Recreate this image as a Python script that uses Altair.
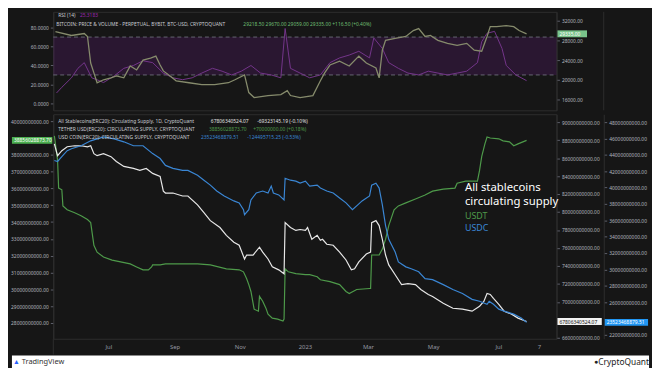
import altair as alt
import pandas as pd

# ---------------- data ----------------
# USDT (ERC20) circulating supply, billions USD  (left axis)
usdt_points = [
    ("2022-05-11", 39.12), ("2022-05-14", 37.68), ("2022-05-15", 36.02), ("2022-05-18", 35.92),
    ("2022-05-19", 34.96), ("2022-05-23", 34.73), ("2022-05-30", 34.55), ("2022-06-05", 34.38),
    ("2022-06-11", 34.15), ("2022-06-14", 33.97), ("2022-06-17", 32.62), ("2022-06-20", 32.21),
    ("2022-06-26", 31.92), ("2022-07-04", 31.74), ("2022-07-12", 31.63), ("2022-07-21", 31.51),
    ("2022-07-27", 31.33), ("2022-08-02", 31.16), ("2022-08-07", 31.16), ("2022-08-10", 31.33),
    ("2022-08-11", 31.45), ("2022-08-18", 31.45), ("2022-08-23", 31.51), ("2022-09-08", 31.51),
    ("2022-09-22", 31.51), ("2022-10-04", 31.45), ("2022-10-19", 31.22), ("2022-10-31", 31.16),
    ("2022-11-04", 31.04), ("2022-11-07", 30.63), ("2022-11-09", 30.28), ("2022-11-11", 29.87),
    ("2022-11-14", 28.82), ("2022-11-18", 28.70), ("2022-11-19", 29.58), ("2022-11-22", 29.29),
    ("2022-11-25", 28.88), ("2022-11-27", 28.52), ("2022-12-01", 28.29), ("2022-12-06", 28.23),
    ("2022-12-11", 28.11), ("2022-12-12", 28.23), ("2022-12-13", 31.22), ("2022-12-16", 31.04),
    ("2022-12-23", 30.93), ("2023-01-01", 30.87), ("2023-01-05", 30.87), ("2023-01-12", 30.75),
    ("2023-01-15", 30.57), ("2023-01-24", 30.46), ("2023-02-02", 30.28), ("2023-02-08", 29.87),
    ("2023-02-11", 29.75), ("2023-02-18", 29.99), ("2023-03-02", 30.05), ("2023-03-03", 30.05),
    ("2023-03-04", 32.04), ("2023-03-11", 32.04), ("2023-03-14", 32.39), ("2023-03-17", 32.97),
    ("2023-03-20", 33.79), ("2023-03-25", 34.73), ("2023-03-29", 34.96), ("2023-04-05", 35.14),
    ("2023-04-14", 35.37), ("2023-04-23", 35.61), ("2023-04-30", 35.84), ("2023-05-10", 35.96),
    ("2023-05-21", 36.02), ("2023-05-23", 36.31), ("2023-05-31", 36.43), ("2023-06-11", 36.43),
    ("2023-06-13", 37.07), ("2023-06-15", 37.89), ("2023-06-18", 38.65), ("2023-06-20", 39.06),
    ("2023-06-23", 39.00), ("2023-07-01", 38.95), ("2023-07-05", 38.83), ("2023-07-11", 38.77),
    ("2023-07-15", 38.54), ("2023-07-19", 38.65), ("2023-07-27", 38.856),
]

# All stablecoins (ERC20) circulating supply, billions USD  (right axis 1)
all_points = [
    ("2022-05-11", 87.59), ("2022-05-14", 86.27), ("2022-05-18", 86.82), ("2022-05-23", 87.26),
    ("2022-05-30", 87.37), ("2022-06-05", 87.37), ("2022-06-11", 87.26), ("2022-06-14", 87.37),
    ("2022-06-17", 86.49), ("2022-06-20", 86.27), ("2022-06-26", 86.49), ("2022-07-03", 86.16),
    ("2022-07-08", 85.62), ("2022-07-15", 85.07), ("2022-07-24", 84.85), ("2022-07-30", 84.63),
    ("2022-08-05", 84.85), ("2022-08-11", 84.30), ("2022-08-18", 83.97), ("2022-08-21", 82.33),
    ("2022-08-23", 82.11), ("2022-08-30", 82.11), ("2022-09-08", 81.78), ("2022-09-13", 81.78),
    ("2022-09-22", 80.79), ("2022-09-28", 79.92), ("2022-10-04", 79.04), ("2022-10-13", 78.27),
    ("2022-10-19", 77.40), ("2022-10-26", 76.63), ("2022-10-31", 76.30), ("2022-11-05", 74.77),
    ("2022-11-07", 75.21), ("2022-11-13", 75.21), ("2022-11-19", 76.08), ("2022-11-22", 75.53),
    ("2022-11-27", 74.77), ("2022-12-01", 73.89), ("2022-12-07", 73.56), ("2022-12-12", 73.12),
    ("2022-12-13", 78.82), ("2022-12-18", 78.27), ("2022-12-23", 77.95), ("2022-12-27", 78.05),
    ("2023-01-01", 77.95), ("2023-01-03", 78.27), ("2023-01-07", 76.96), ("2023-01-12", 77.40),
    ("2023-01-15", 76.85), ("2023-01-17", 76.96), ("2023-01-21", 76.41), ("2023-01-27", 76.30),
    ("2023-02-02", 75.53), ("2023-02-08", 74.66), ("2023-02-13", 73.56), ("2023-02-16", 73.67),
    ("2023-02-20", 74.44), ("2023-02-27", 75.32), ("2023-03-03", 75.53), ("2023-03-04", 78.82),
    ("2023-03-08", 79.04), ("2023-03-11", 78.49), ("2023-03-14", 76.96), ("2023-03-17", 75.21),
    ("2023-03-20", 74.11), ("2023-03-26", 73.01), ("2023-04-01", 71.92), ("2023-04-07", 72.03),
    ("2023-04-14", 71.92), ("2023-04-19", 71.37), ("2023-04-26", 70.82), ("2023-04-30", 70.60),
    ("2023-05-10", 69.84), ("2023-05-19", 69.29), ("2023-05-28", 69.18), ("2023-06-06", 68.96),
    ("2023-06-13", 69.51), ("2023-06-17", 70.05), ("2023-06-20", 70.93), ("2023-06-23", 70.82),
    ("2023-06-26", 70.38), ("2023-07-01", 69.73), ("2023-07-06", 68.96), ("2023-07-13", 68.63),
    ("2023-07-19", 68.19), ("2023-07-27", 67.806),
]

# USDC (ERC20) circulating supply, billions USD  (right axis 2)
usdc_points = [
    ("2022-05-11", 43.31), ("2022-05-14", 43.19), ("2022-05-18", 43.79), ("2022-05-23", 44.51),
    ("2022-05-27", 44.75), ("2022-06-05", 45.11), ("2022-06-14", 45.71), ("2022-06-20", 45.95),
    ("2022-06-26", 46.19), ("2022-07-06", 45.95), ("2022-07-15", 45.59), ("2022-07-24", 45.11),
    ("2022-08-02", 45.11), ("2022-08-11", 44.15), ("2022-08-18", 43.55), ("2022-08-23", 42.71),
    ("2022-08-30", 42.34), ("2022-09-08", 42.10), ("2022-09-13", 42.10), ("2022-09-22", 41.50),
    ("2022-09-28", 40.90), ("2022-10-04", 40.30), ("2022-10-10", 39.58), ("2022-10-17", 38.97),
    ("2022-10-26", 38.37), ("2022-10-31", 38.13), ("2022-11-04", 37.29), ("2022-11-05", 36.69),
    ("2022-11-09", 37.29), ("2022-11-11", 38.49), ("2022-11-16", 39.34), ("2022-11-22", 39.58),
    ("2022-11-27", 39.34), ("2022-11-30", 40.18), ("2022-12-02", 39.34), ("2022-12-07", 39.10),
    ("2022-12-12", 38.49), ("2022-12-13", 41.14), ("2022-12-18", 40.90), ("2022-12-23", 40.78),
    ("2022-12-27", 40.54), ("2023-01-01", 40.78), ("2023-01-05", 40.18), ("2023-01-12", 40.30),
    ("2023-01-15", 39.94), ("2023-01-21", 39.58), ("2023-01-27", 39.34), ("2023-02-02", 38.73),
    ("2023-02-08", 38.13), ("2023-02-14", 37.29), ("2023-02-19", 37.89), ("2023-02-23", 38.37),
    ("2023-03-02", 38.97), ("2023-03-04", 40.30), ("2023-03-08", 40.54), ("2023-03-11", 39.94),
    ("2023-03-14", 37.89), ("2023-03-17", 35.36), ("2023-03-20", 33.68), ("2023-03-26", 32.12),
    ("2023-03-29", 30.91), ("2023-04-05", 30.31), ("2023-04-10", 30.07), ("2023-04-17", 29.71),
    ("2023-04-23", 28.87), ("2023-04-30", 28.75), ("2023-05-10", 28.14), ("2023-05-19", 27.54),
    ("2023-05-28", 27.06), ("2023-06-06", 26.34), ("2023-06-13", 26.10), ("2023-06-20", 25.74),
    ("2023-06-22", 26.10), ("2023-06-26", 25.74), ("2023-07-01", 25.14), ("2023-07-06", 24.90),
    ("2023-07-15", 24.53), ("2023-07-22", 24.05), ("2023-07-27", 23.52),
]

# BTC price (USD), right axis of the top pane
btc_points = [
    ("2022-05-12", 29800), ("2022-05-27", 29000), ("2022-06-08", 29400), ("2022-06-11", 28800),
    ("2022-06-14", 23400), ("2022-06-17", 21400), ("2022-06-20", 19400), ("2022-06-26", 20000),
    ("2022-07-03", 20400), ("2022-07-08", 20800), ("2022-07-15", 20400), ("2022-07-21", 22800),
    ("2022-07-27", 22000), ("2022-08-02", 24000), ("2022-08-09", 24400), ("2022-08-14", 24800),
    ("2022-08-18", 23000), ("2022-08-21", 21800), ("2022-08-27", 20800), ("2022-09-02", 19800),
    ("2022-09-14", 19400), ("2022-09-26", 19000), ("2022-10-08", 19000), ("2022-10-21", 19400),
    ("2022-10-27", 20000), ("2022-11-05", 21000), ("2022-11-09", 17400), ("2022-11-14", 16400),
    ("2022-11-27", 16800), ("2022-12-09", 17000), ("2022-12-15", 17800), ("2022-12-18", 16800),
    ("2022-12-27", 16400), ("2023-01-08", 16800), ("2023-01-15", 19800), ("2023-01-19", 21400),
    ("2023-01-24", 23000), ("2023-02-02", 23800), ("2023-02-11", 22800), ("2023-02-20", 24800),
    ("2023-02-27", 23400), ("2023-03-08", 22400), ("2023-03-11", 20400), ("2023-03-14", 26000),
    ("2023-03-17", 28000), ("2023-03-26", 28400), ("2023-04-05", 28800), ("2023-04-12", 30000),
    ("2023-04-17", 30400), ("2023-04-23", 28800), ("2023-04-28", 29000), ("2023-05-05", 28000),
    ("2023-05-14", 27400), ("2023-05-23", 27000), ("2023-06-01", 27400), ("2023-06-08", 26000),
    ("2023-06-15", 25800), ("2023-06-20", 28800), ("2023-06-23", 30800), ("2023-06-29", 30800),
    ("2023-07-08", 31000), ("2023-07-15", 30800), ("2023-07-20", 30000), ("2023-07-27", 29335),
]

# RSI (14), left axis of the top pane
rsi_points = [
    ("2022-05-13", 11), ("2022-05-18", 17), ("2022-05-27", 27), ("2022-06-02", 37), ("2022-06-08", 43),
    ("2022-06-15", 27), ("2022-06-22", 24), ("2022-06-26", 22), ("2022-07-06", 29), ("2022-07-15", 37),
    ("2022-07-24", 40), ("2022-08-02", 45), ("2022-08-11", 43), ("2022-08-21", 32), ("2022-08-30", 27),
    ("2022-09-08", 25), ("2022-09-17", 27), ("2022-09-26", 32), ("2022-10-06", 37), ("2022-10-15", 34),
    ("2022-10-24", 30), ("2022-11-02", 34), ("2022-11-11", 40), ("2022-11-20", 32), ("2022-11-30", 30),
    ("2022-12-09", 27), ("2022-12-13", 79), ("2022-12-18", 37), ("2022-12-27", 32), ("2023-01-05", 27),
    ("2023-01-15", 30), ("2023-01-24", 43), ("2023-02-02", 48), ("2023-02-11", 51), ("2023-02-20", 55),
    ("2023-03-02", 48), ("2023-03-06", 69), ("2023-03-14", 58), ("2023-03-20", 43), ("2023-03-29", 37),
    ("2023-04-07", 32), ("2023-04-17", 30), ("2023-04-26", 34), ("2023-05-05", 32), ("2023-05-14", 30),
    ("2023-05-23", 32), ("2023-06-01", 34), ("2023-06-11", 43), ("2023-06-15", 65), ("2023-06-20", 74),
    ("2023-06-27", 76), ("2023-07-04", 58), ("2023-07-08", 40), ("2023-07-17", 30), ("2023-07-27", 24),
]

rsi_levels = [70, 30]
x_tick_dates = ["2022-07-01", "2022-09-01", "2022-11-01", "2023-01-01",
                "2023-03-01", "2023-05-01", "2023-07-01", "2023-08-08"]
x_tick_labels = ["Jul", "Sep", "Nov", "2023", "Mar", "May", "Jul", "7"]

# axis ticks (the label hidden under each last-value box is left out, as in the reference)
usdt_ticks = [28, 29, 30, 31, 32, 33, 34, 35, 36, 37, 38, 40]
all_ticks = [66, 70, 72, 74, 76, 78, 80, 82, 84, 86, 88, 90]
usdc_ticks = [22, 26, 28, 30, 32, 34, 36, 38, 40, 42, 44, 46, 48]
price_ticks = [16000, 20000, 24000, 28000, 32000]
rsi_ticks = [0, 20, 40, 60, 80]

# ---------------- tables ----------------
BN = 1e9


def series_df(points, scale=1.0):
    return pd.DataFrame({"date": [p[0] for p in points], "v": [p[1] * scale for p in points]})


usdt_df = series_df(usdt_points, BN)
all_df = series_df(all_points, BN)
usdc_df = series_df(usdc_points, BN)
btc_df = series_df(btc_points)
rsi_df = series_df(rsi_points)
band_df = pd.DataFrame({"hi": [rsi_levels[0]], "lo": [rsi_levels[1]]})
lvl_df = pd.DataFrame({"lvl": rsi_levels})
xt_df = pd.DataFrame({"date": x_tick_dates, "label": x_tick_labels})
last_usdt = pd.DataFrame({"v": [38856028873.70]})
last_all = pd.DataFrame({"v": [67806340524.07]})
last_usdc = pd.DataFrame({"v": [23523468879.51]})
last_btc = pd.DataFrame({"v": [29335.00]})
one = pd.DataFrame({"k": [0]})

# ---------------- style ----------------
BG = "#161616"
LINE = "#2e2e2e"
W, HT, HB = 511, 100, 228
X_DOMAIN = ["2022-05-10", "2023-08-24"]
FONT = "Noto Sans"
GREEN = "#4e9a4a"
BLUE = "#3a86d4"
WHITE = "#e8e8e8"
LEG = 5.0


def xenc():
    return alt.X("date:T", scale=alt.Scale(domain=X_DOMAIN), axis=None)


def axis(orient, values, fmt, offset=0, extent=42):
    return alt.Axis(orient=orient, values=values, format=fmt, offset=offset,
                    minExtent=extent, maxExtent=extent, grid=False, title=None,
                    labelFont=FONT, labelFontSize=5, labelColor="#b2b5be",
                    tickColor="#5d606b", tickSize=3, labelPadding=2,
                    domainColor=LINE, labelFlush=False, labelOverlap=False)


def label(text, x, y, color="#c9cbd1", size=LEG, align="left", baseline="middle",
          font=FONT, weight="normal"):
    return alt.Chart(one).mark_text(text=text, align=align, baseline=baseline, color=color,
                                    fontSize=size, font=font, fontWeight=weight).encode(
        x=alt.value(x), y=alt.value(y))


def vrule(x, y1, y2, color=LINE):
    return alt.Chart(one).mark_rule(color=color, strokeWidth=1).encode(
        x=alt.value(x), y=alt.value(y1), y2=alt.value(y2))


# ---------------- top pane: RSI + BTC ----------------
rsi_scale = alt.Scale(domain=[-7.3, 96.6], nice=False, zero=False)
rsi_axis = axis("left", [v * 1.0 for v in rsi_ticks], ".4f", extent=42)
price_scale = alt.Scale(domain=[13800, 33800], nice=False, zero=False)
price_axis = axis("right", price_ticks, ".2f", extent=48)

band = alt.Chart(band_df).mark_rect(color="#7b1fa2", opacity=0.2).encode(
    x=alt.value(0), x2=alt.value(W),
    y=alt.Y("hi:Q", scale=rsi_scale, axis=rsi_axis), y2="lo:Q")
levels = alt.Chart(lvl_df).mark_rule(color="#787b86", strokeDash=[4, 3], strokeWidth=0.8).encode(
    x=alt.value(0), x2=alt.value(W), y=alt.Y("lvl:Q", scale=rsi_scale, axis=rsi_axis))
rsi_line = alt.Chart(rsi_df).mark_line(color="#74358a", strokeWidth=1).encode(
    x=xenc(), y=alt.Y("v:Q", scale=rsi_scale, axis=rsi_axis))

price_line = alt.Chart(btc_df).mark_line(color="#868b6c", strokeWidth=1.3).encode(
    x=xenc(), y=alt.Y("v:Q", scale=price_scale, axis=price_axis))
price_box = alt.Chart(last_btc).mark_rule(color="#79c38a", strokeWidth=7).encode(
    x=alt.value(W + 1), x2=alt.value(W + 31), y=alt.Y("v:Q", scale=price_scale, axis=price_axis))
price_txt = alt.Chart(last_btc).mark_text(align="left", baseline="middle", color="white",
                                          fontSize=5, font=FONT).encode(
    x=alt.value(W + 3), y=alt.Y("v:Q", scale=price_scale, axis=price_axis),
    text=alt.Text("v:Q", format=".2f"))

top = alt.layer(
    alt.layer(band, levels, rsi_line),
    alt.layer(price_line, price_box, price_txt),
    label("RSI (14)", 5, 3.5),
    label("25.3183", 27, 3.5, color="#9c27b0"),
    label("BITCOIN: PRICE & VOLUME - PERPETUAL, BYBIT, BTC-USD, CRYPTOQUANT", 3, 12),
    label("29218.50  29670.00  29059.00  29335.00  +116.50 (+0.40%)", 193, 12, color="#6fbf73"),
    vrule(W + 48, 0, HT),
).resolve_scale(y="independent").properties(width=W, height=HT)

# ---------------- bottom pane: stablecoins ----------------
usdt_scale = alt.Scale(domain=[27.06 * BN, 40.41 * BN], nice=False, zero=False)
usdt_axis = axis("left", [t * BN for t in usdt_ticks], ".2f", extent=42)
all_scale = alt.Scale(domain=[65.89 * BN, 90.88 * BN], nice=False, zero=False)
all_axis = axis("right", [t * BN for t in all_ticks], ".2f", extent=48)
usdc_scale = alt.Scale(domain=[21.52 * BN, 48.96 * BN], nice=False, zero=False)
usdc_axis = axis("right", [t * BN for t in usdc_ticks], ".2f", offset=48, extent=46)


def last_box(df, scale, ax, x1, x2, color, txt_color):
    box = alt.Chart(df).mark_rule(color=color, strokeWidth=7).encode(
        x=alt.value(x1), x2=alt.value(x2), y=alt.Y("v:Q", scale=scale, axis=ax))
    txt = alt.Chart(df).mark_text(align="left", baseline="middle", color=txt_color,
                                  fontSize=5, font=FONT).encode(
        x=alt.value(x1 + 2), y=alt.Y("v:Q", scale=scale, axis=ax),
        text=alt.Text("v:Q", format=".2f"))
    return box, txt


usdt_line = alt.Chart(usdt_df).mark_line(color=GREEN, strokeWidth=1.2).encode(
    x=xenc(), y=alt.Y("v:Q", scale=usdt_scale, axis=usdt_axis))
all_line = alt.Chart(all_df).mark_line(color=WHITE, strokeWidth=1.2).encode(
    x=xenc(), y=alt.Y("v:Q", scale=all_scale, axis=all_axis))
usdc_line = alt.Chart(usdc_df).mark_line(color=BLUE, strokeWidth=1.2).encode(
    x=xenc(), y=alt.Y("v:Q", scale=usdc_scale, axis=usdc_axis))

g_box, g_txt = last_box(last_usdt, usdt_scale, usdt_axis, -42, -1, "#4caf50", "white")
w_box, w_txt = last_box(last_all, all_scale, all_axis, W + 1, W + 46, "#f2f2f2", "#111111")
b_box, b_txt = last_box(last_usdc, usdc_scale, usdc_axis, W + 49, W + 93, "#2196f3", "white")

x_labels = alt.Chart(xt_df).mark_text(baseline="middle", color="#9598a1", fontSize=6,
                                      font=FONT).encode(
    x=alt.X("date:T", scale=alt.Scale(domain=X_DOMAIN), axis=None),
    y=alt.value(HB + 8), text="label:N")

footer = alt.Chart(one).mark_rect(color="white").encode(
    x=alt.value(-42), x2=alt.value(W + 94), y=alt.value(HB + 17), y2=alt.value(HB + 40))

bottom = alt.layer(
    alt.layer(usdt_line, g_box, g_txt),
    alt.layer(all_line, w_box, w_txt),
    alt.layer(usdc_line, b_box, b_txt),
    label("All Stablecoins(ERC20): Circulating Supply, 1D, CryptoQuant", 5, 7),
    label("67806340524.07", 160, 7, color="#e0e0e0"),
    label("-69323145.19 (-0.10%)", 207, 7, color="#e0e0e0"),
    label("TETHER USD(ERC20): CIRCULATING SUPPLY, CRYPTOQUANT", 5, 15),
    label("38856028873.70", 158, 15, color=GREEN),
    label("+70000000.00 (+0.18%)", 203, 15, color=GREEN),
    label("USD COIN(ERC20): CIRCULATING SUPPLY, CRYPTOQUANT", 5, 23),
    label("23523468879.51", 150, 23, color=BLUE),
    label("-124495715.25 (-0.53%)", 197, 23, color=BLUE),
    label("All stablecoins", 418, 78, color="white", size=11.5, baseline="alphabetic"),
    label("circulating supply", 418, 92, color="white", size=11.5, baseline="alphabetic"),
    label("USDT", 418, 106, color=GREEN, size=9, baseline="alphabetic"),
    label("USDC", 418, 119, color=BLUE, size=9, baseline="alphabetic"),
    x_labels,
    vrule(0, HB, HB + 16),
    footer,
    label("TradingView", -32, HB + 24, color="#333333", size=7.5),
    label("\u25B2", -41, HB + 24, color="#2962ff", size=7),
    label("CryptoQuant", W + 94, HB + 24, color="#222222", size=8.5, align="right"),
    label("\u25CF", W + 38, HB + 24, color="#222222", size=7),
).resolve_scale(y="independent").properties(width=W, height=HB)

chart = alt.vconcat(top, bottom, spacing=2).properties(
    padding={"left": 0, "top": 0, "right": 0, "bottom": 0}
).configure(background=BG).configure_view(fill=BG, stroke=LINE, strokeWidth=1)

chart.save("out.html", embed_options={"renderer": "svg", "actions": False})
